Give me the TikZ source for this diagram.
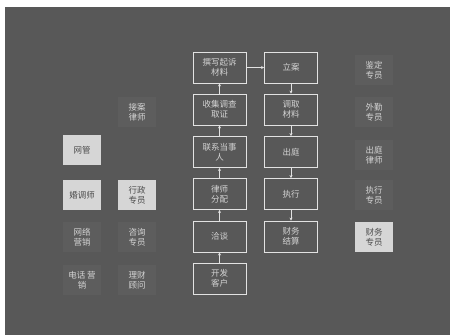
\documentclass[tikz,border=0pt]{standalone}
\usepackage{fontspec}
\newfontfamily\cjk{Noto Sans CJK SC}
\usetikzlibrary{arrows.meta}
\definecolor{figBg}{RGB}{88,88,88}
\definecolor{figLn}{RGB}{226,226,226}
\definecolor{figTx}{RGB}{212,212,212}
\definecolor{figLt}{RGB}{214,214,214}
\definecolor{figSh}{RGB}{93,93,93}

\begin{document}
\begin{tikzpicture}[x=1pt, y=-1pt,
  flow/.style={draw=figLn, line width=0.9pt, minimum width=53pt, minimum height=31pt,
    inner sep=1pt, align=center, text=figTx, font=\cjk\fontsize{8.5}{10}\selectfont},
  role/.style={fill=figSh, minimum width=38pt, minimum height=30pt, inner sep=1pt,
    align=center, text=figTx, font=\cjk\fontsize{8.5}{10}\selectfont},
  hilite/.style={role, fill=figLt, text=figBg!85!black},
  link/.style={figLn, line width=0.8pt, -{Stealth[length=3pt, width=3pt]}}]
% page and dark panel
\fill[white] (0,0) rectangle (454,335);
\fill[figBg] (5,7) rectangle (450,335);
% main process, left column (runs upward)
\node[flow] (kaifa) at (219.5,278.5) {开发\\客户};
\node[flow] (qiatan) at (219.5,236.5) {洽谈};
\node[flow] (fenpei) at (219.5,194) {律师\\分配};
\node[flow] (lianxi) at (219.5,152) {联系当事\\人};
\node[flow] (quzheng) at (219.5,109.5) {收集调查\\取证};
\node[flow] (zhuanxie) at (219.5,67.5) {撰写起诉\\材料};
% main process, right column (runs downward)
\node[flow] (lian) at (291,67.5) {立案};
\node[flow] (diaoqu) at (291,109.5) {调取\\材料};
\node[flow] (chuting) at (291,152) {出庭};
\node[flow] (zhixing) at (291,194) {执行};
\node[flow] (jiesuan) at (291,236.5) {财务\\结算};
\draw[link] (kaifa) -- (qiatan);
\draw[link] (qiatan) -- (fenpei);
\draw[link] (fenpei) -- (lianxi);
\draw[link] (lianxi) -- (quzheng);
\draw[link] (quzheng) -- (zhuanxie);
\draw[link] (zhuanxie) -- (lian);
\draw[link] (lian) -- (diaoqu);
\draw[link] (diaoqu) -- (chuting);
\draw[link] (chuting) -- (zhixing);
\draw[link] (zhixing) -- (jiesuan);
% staff on the left
\node[role] (jiean) at (137,112) {接案\\律师};
\node[hilite] (wangguan) at (82,150) {网管};
\node[hilite] (hundiao) at (82,195) {婚调师};
\node[hilite] (xingzheng) at (137,195) {行政\\专员};
\node[role] (wangluo) at (82,237) {网络\\营销};
\node[role] (zixun) at (137,237) {咨询\\专员};
\node[role] (dianhua) at (82,280) {电话\ 营\\销};
\node[role] (licai) at (137,280) {理财\\顾问};
% staff on the right
\node[role] (jianding) at (374,70) {鉴定\\专员};
\node[role] (waiqin) at (374,112) {外勤\\专员};
\node[role] (lvshi) at (374,155) {出庭\\律师};
\node[role] (zhixingzy) at (374,195) {执行\\专员};
\node[hilite] (caiwu) at (374,237) {财务\\专员};
\end{tikzpicture}
\end{document}
